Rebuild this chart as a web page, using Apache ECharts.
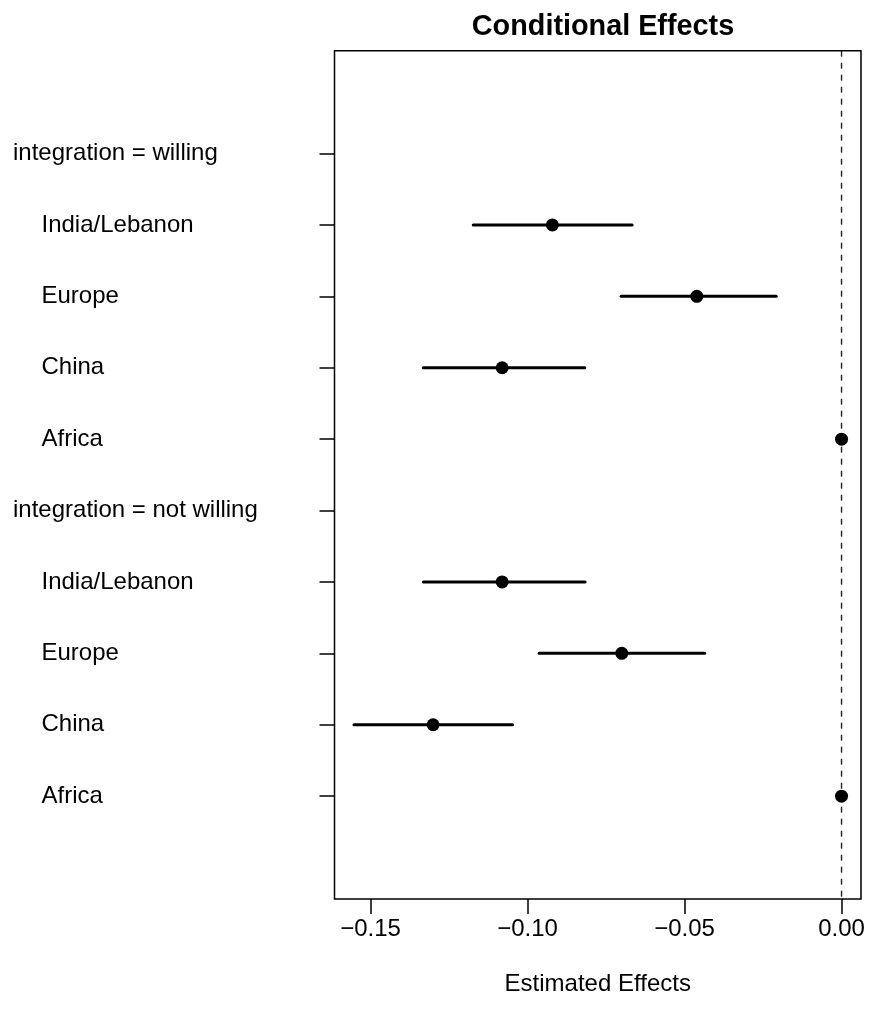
<!DOCTYPE html>
<html>
<head>
<meta charset="utf-8">
<script src="https://cdn.jsdelivr.net/npm/echarts@6/dist/echarts.min.js"></script>
<style>
  html, body { margin: 0; padding: 0; background: #ffffff; }
  #chart { width: 870px; height: 1019px; }
</style>
</head>
<body>
<div id="chart"></div>
<script>
// ---- data ----
const rowLabels = ['integration = willing', 'India/Lebanon', 'Europe', 'China', 'Africa',
                   'integration = not willing', 'India/Lebanon', 'Europe', 'China', 'Africa'];
const isHeader = [true, false, false, false, false, true, false, false, false, false];
const estimates = [null, -0.0921, -0.0461, -0.1081, 0.0, null, -0.1081, -0.0700, -0.1301, 0.0];
const lowerCI   = [null, -0.1173, -0.0702, -0.1332, null, null, -0.1332, -0.0963, -0.1553, null];
const upperCI   = [null, -0.0667, -0.0208, -0.0818, null, null, -0.0817, -0.0436, -0.1048, null];
const xTicks = [-0.15, -0.10, -0.05, 0.00];
const rowPositions = [1, 2, 3, 4, 5, 6, 7, 8, 9, 10];

// ---- build series data ----
const pointData = [];
const ciData = [];
rowPositions.forEach(function (pos, i) {
  if (estimates[i] !== null) pointData.push([estimates[i], pos]);
  if (lowerCI[i] !== null) ciData.push([lowerCI[i], upperCI[i], pos]);
});

const FONT = 'Liberation Sans, Arial, Helvetica, sans-serif';
const chart = echarts.init(document.getElementById('chart'), null, { renderer: 'canvas' });

function fmtTick(v) {
  const s = Math.abs(v).toFixed(2);
  return v < -1e-9 ? '\u2212' + s : s;
}

chart.setOption({
  animation: false,
  backgroundColor: '#ffffff',
  title: {
    text: 'Conditional Effects',
    left: 598,
    top: 8,
    textAlign: 'center',
    textStyle: { fontFamily: FONT, fontSize: 28.8, fontWeight: 'bold', color: '#000' }
  },
  grid: {
    left: 334.5, right: 9, top: 50.7, bottom: 120,
    show: true, borderColor: '#000', borderWidth: 1.5, backgroundColor: 'transparent'
  },
  xAxis: {
    type: 'value',
    min: -0.1615, max: 0.0062,
    splitLine: { show: false },
    axisLine: { show: false, onZero: false },
    axisTick: { show: true, inside: false, length: 15, customValues: xTicks,
                lineStyle: { color: '#000', width: 1.5 } },
    axisLabel: { customValues: xTicks, formatter: fmtTick, margin: 18,
                 fontFamily: FONT, fontSize: 24, color: '#000' },
    name: 'Estimated Effects',
    nameLocation: 'middle',
    nameGap: 73,
    nameTextStyle: { fontFamily: FONT, fontSize: 24, color: '#000' }
  },
  yAxis: {
    type: 'value',
    min: -0.44, max: 11.44,
    inverse: true,
    splitLine: { show: false },
    axisLine: { show: false, onZero: false },
    axisTick: { show: true, inside: false, length: 15, customValues: rowPositions,
                lineStyle: { color: '#000', width: 1.5 } },
    axisLabel: {
      customValues: rowPositions,
      align: 'left',
      margin: 321.5,
      fontFamily: FONT, fontSize: 24, color: '#000',
      formatter: function (v) {
        const i = Math.round(v) - 1;
        return isHeader[i] ? '{h|' + rowLabels[i] + '}' : '{c|' + rowLabels[i] + '}';
      },
      rich: {
        h: { fontFamily: FONT, fontSize: 24, color: '#000' },
        c: { fontFamily: FONT, fontSize: 24, color: '#000', padding: [0, 0, 0, 28.5] }
      }
    }
  },
  series: [
    {
      type: 'line',
      data: [[0, -0.44], [0, 11.44]],
      symbol: 'none',
      silent: true,
      lineStyle: { color: '#222', width: 1.4, type: [6, 6] },
      z: 1
    },
    {
      type: 'custom',
      data: ciData,
      encode: { x: [0, 1], y: 2 },
      renderItem: function (params, api) {
        const p1 = api.coord([api.value(0), api.value(2)]);
        const p2 = api.coord([api.value(1), api.value(2)]);
        return {
          type: 'line',
          shape: { x1: p1[0], y1: p1[1], x2: p2[0], y2: p2[1] },
          style: { stroke: '#000', lineWidth: 3, lineCap: 'round' }
        };
      },
      z: 2
    },
    {
      type: 'scatter',
      data: pointData,
      symbol: 'circle',
      symbolSize: 13,
      itemStyle: { color: '#000', opacity: 1 },
      z: 3
    }
  ]
});
</script>
</body>
</html>
